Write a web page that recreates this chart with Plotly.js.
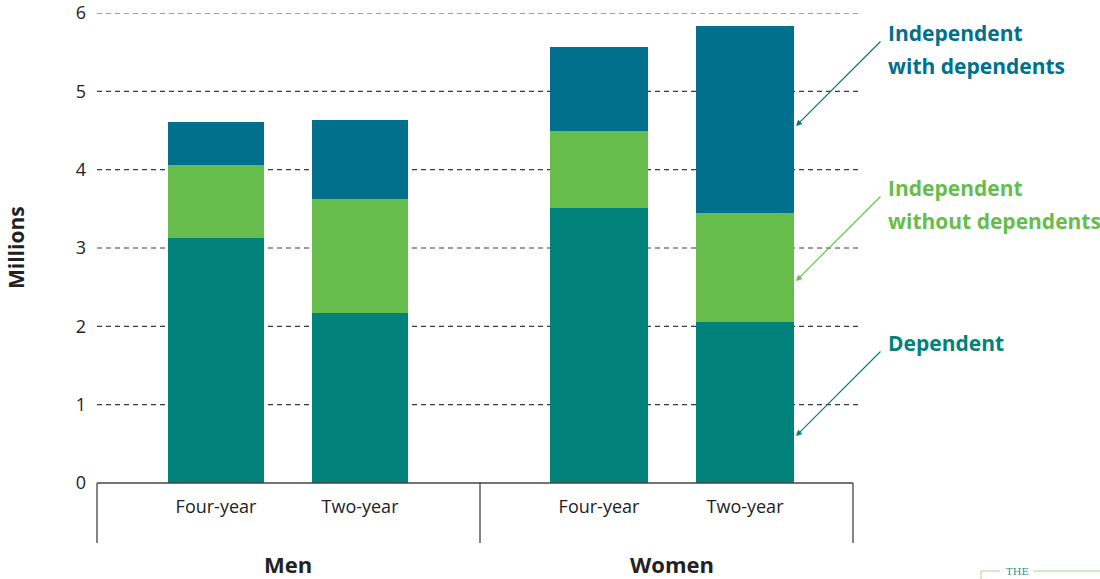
<!DOCTYPE html>
<html>
<head>
<meta charset="utf-8">
<script src="https://cdn.plot.ly/plotly-3.0.1.min.js"></script>
<style>html,body{margin:0;padding:0;background:#fff;}#chart{width:1100px;height:579px;}</style>
</head>
<body>
<div id="chart"></div>
<script>
// ---- data ----
const groups = ["Men", "Women"];
const categories = ["Four-year", "Two-year"];
const dependentMen = [3.13, 2.17];
const dependentWomen = [3.51, 2.05];
const indepNoDepMen = [0.93, 1.46];
const indepNoDepWomen = [0.99, 1.40];
const indepWithDepMen = [0.55, 1.01];
const indepWithDepWomen = [1.06, 2.39];
const yTicks = [0, 1, 2, 3, 4, 5, 6];
const gridVals = [1, 2, 3, 4, 5, 6];
const seriesNames = ["Dependent", "Independent without dependents", "Independent with dependents"];

// ---- styling ----
const cTeal = "#00827a", cGreen = "#66bd4b", cBlue = "#00708c";
const FONT = "Open Sans, Noto Sans, sans-serif";
const W = 1100, H = 579;
const L = 97, R = 862, T = 13, B = 483;
const px = x => (x - L) / (R - L);
const py = y => (B - y) / (B - T);

const colors = [cTeal, cGreen, cBlue];
const menSeries = [dependentMen, indepNoDepMen, indepWithDepMen];
const womenSeries = [dependentWomen, indepNoDepWomen, indepWithDepWomen];

const traces = [];
menSeries.forEach((vals, i) => traces.push({
  type: "bar", x: categories, y: vals, name: seriesNames[i],
  marker: {color: colors[i], line: {width: 0}}, xaxis: "x", yaxis: "y",
  hoverinfo: "y+name", showlegend: false
}));
womenSeries.forEach((vals, i) => traces.push({
  type: "bar", x: categories, y: vals, name: seriesNames[i],
  marker: {color: colors[i], line: {width: 0}}, xaxis: "x2", yaxis: "y",
  hoverinfo: "y+name", showlegend: false
}));

const split = px(480);
const shapes = [];
gridVals.forEach(v => shapes.push({
  type: "line", xref: "paper", yref: "y", x0: 0, x1: 1, y0: v, y1: v,
  line: {color: "#3a3a3a", width: 1.2, dash: "5px,4px"}, layer: "below"
}));
// baseline and group dividers
shapes.push({type: "line", xref: "paper", yref: "paper", x0: 0, x1: px(853), y0: 0, y1: 0,
  line: {color: "#444", width: 1.5}, layer: "above"});
[97, 480, 853].forEach(x => shapes.push({type: "line", xref: "paper", yref: "paper",
  x0: px(x), x1: px(x), y0: 0, y1: py(543), line: {color: "#444", width: 1.3}}));
// logo lines
shapes.push({type: "line", xref: "paper", yref: "paper", x0: px(981), x1: px(1000), y0: py(571), y1: py(571), line: {color: "#a8d88a", width: 1}});
shapes.push({type: "line", xref: "paper", yref: "paper", x0: px(1033), x1: px(1100), y0: py(571), y1: py(571), line: {color: "#a8d88a", width: 1}});
shapes.push({type: "line", xref: "paper", yref: "paper", x0: px(981), x1: px(981), y0: py(571), y1: py(580), line: {color: "#a8d88a", width: 1}});

const annFont = (c) => ({family: FONT, size: 21, color: c});
const annotations = [
  {text: "<b>Men</b>", xref: "paper", yref: "paper", x: px(288), y: py(564), showarrow: false,
   font: {family: FONT, size: 22, color: "#222"}, xanchor: "center", yanchor: "middle"},
  {text: "<b>Women</b>", xref: "paper", yref: "paper", x: px(672), y: py(564), showarrow: false,
   font: {family: FONT, size: 22, color: "#222"}, xanchor: "center", yanchor: "middle"},
  {text: "<b>Millions</b>", xref: "paper", yref: "paper", x: px(16), y: py(248), showarrow: false,
   textangle: -90, font: {family: FONT, size: 21, color: "#222"}, xanchor: "center", yanchor: "middle"},
  // series labels
  {text: "<b>Independent</b>", xref: "paper", yref: "paper", x: px(886), y: py(33), showarrow: false, font: annFont(cBlue), xanchor: "left", yanchor: "middle"},
  {text: "<b>with dependents</b>", xref: "paper", yref: "paper", x: px(886), y: py(66), showarrow: false, font: annFont(cBlue), xanchor: "left", yanchor: "middle"},
  {text: "<b>Independent</b>", xref: "paper", yref: "paper", x: px(886), y: py(188), showarrow: false, font: annFont(cGreen), xanchor: "left", yanchor: "middle"},
  {text: "<b>without dependents</b>", xref: "paper", yref: "paper", x: px(886), y: py(221), showarrow: false, font: annFont(cGreen), xanchor: "left", yanchor: "middle"},
  {text: "<b>Dependent</b>", xref: "paper", yref: "paper", x: px(886), y: py(343), showarrow: false, font: annFont(cTeal), xanchor: "left", yanchor: "middle"},
  // arrows
  {text: "", xref: "paper", yref: "paper", x: px(796), y: py(126), ax: 86, ay: -86, showarrow: true,
   arrowhead: 2, arrowsize: 1, arrowwidth: 1.2, arrowcolor: cBlue},
  {text: "", xref: "paper", yref: "paper", x: px(796), y: py(281), ax: 86, ay: -86, showarrow: true,
   arrowhead: 2, arrowsize: 1, arrowwidth: 1.2, arrowcolor: cGreen},
  {text: "", xref: "paper", yref: "paper", x: px(796), y: py(436), ax: 86, ay: -86, showarrow: true,
   arrowhead: 2, arrowsize: 1, arrowwidth: 1.2, arrowcolor: cTeal},
  // logo
  {text: "THE", xref: "paper", yref: "paper", x: px(1017), y: py(571), showarrow: false,
   font: {family: "DejaVu Serif, Liberation Serif, serif", size: 10, color: "#2a9189"}, xanchor: "center", yanchor: "middle"}
];

const tickFont = {family: FONT, size: 18, color: "#222"};
const layout = {
  width: W, height: H,
  margin: {l: L, r: W - R, t: T, b: H - B, pad: 0},
  paper_bgcolor: "#fff", plot_bgcolor: "rgba(0,0,0,0)",
  barmode: "stack", bargap: 0.333,
  font: {family: FONT},
  xaxis: {domain: [0, split], type: "category", range: [-(216 - 97) / 144, -(216 - 97) / 144 + (480 - 97) / 144],
    showgrid: false, zeroline: false, showline: false, ticks: "", tickfont: tickFont, ticklabelstandoff: 11, anchor: "y", fixedrange: true},
  xaxis2: {domain: [split, 1], type: "category", range: [-(599 - 480) / 146, -(599 - 480) / 146 + (862 - 480) / 146],
    showgrid: false, zeroline: false, showline: false, ticks: "", tickfont: tickFont, ticklabelstandoff: 11, anchor: "y", fixedrange: true},
  yaxis: {range: [0, 6], tickvals: yTicks, ticktext: yTicks.map(String), showgrid: false, zeroline: false,
    showline: false, ticks: "", tickfont: {family: FONT, size: 18, color: "#222"}, ticklabelstandoff: 10, fixedrange: true},
  shapes: shapes,
  annotations: annotations
};

Plotly.newPlot("chart", traces, layout, {displayModeBar: false, staticPlot: true});
</script>
</body>
</html>
